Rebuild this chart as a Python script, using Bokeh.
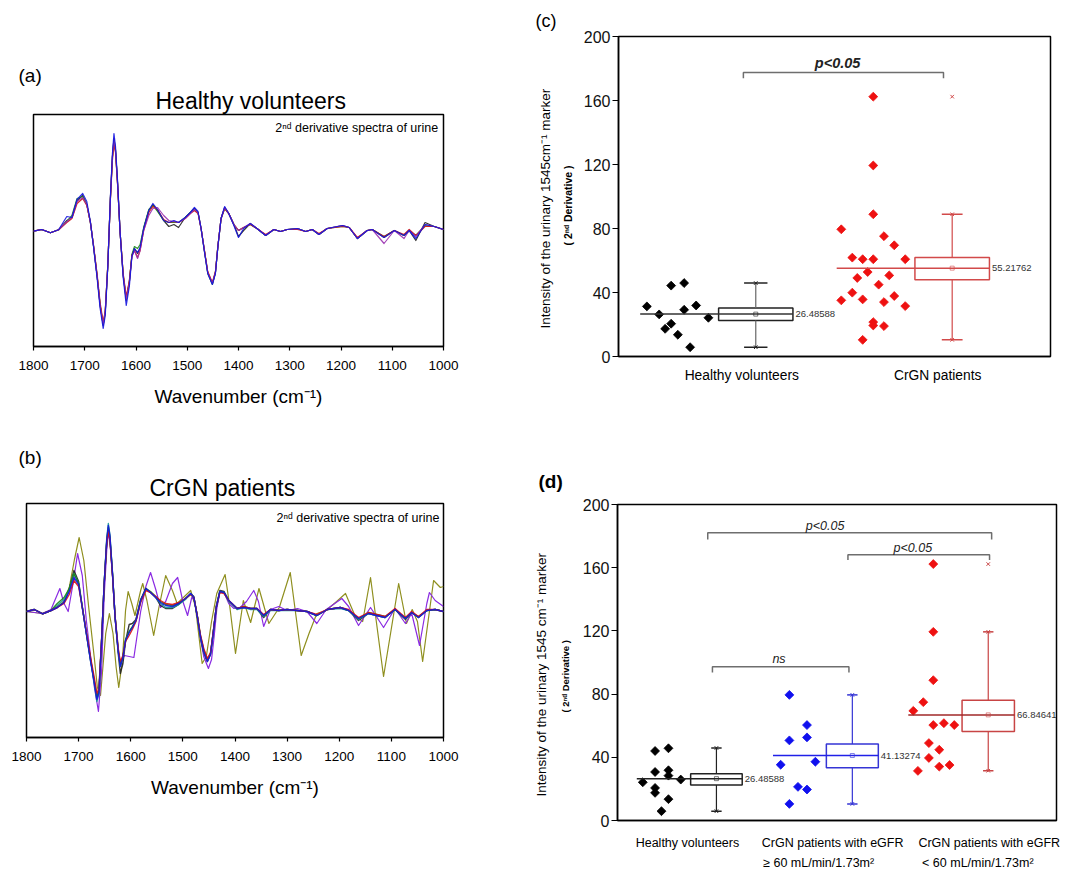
import numpy as np
from bokeh.plotting import figure
from bokeh.layouts import row, column
from bokeh.models import Range1d, Label, FixedTicker, Title, LinearAxis
from bokeh.embed import file_html
from bokeh.resources import INLINE

SANS = "Liberation Sans"

# ------------------------------------------------------------------ data
# (a) healthy volunteers: 2nd-derivative spectra (arbitrary units)
WN_A = [1800, 1784, 1767, 1751, 1735, 1725, 1715, 1704, 1696, 1689,
        1683, 1676, 1670, 1664, 1660, 1655, 1650, 1646, 1643, 1640,
        1636, 1631, 1625, 1619, 1613, 1608, 1603, 1597, 1592, 1585,
        1575, 1567, 1558, 1546, 1536, 1526, 1517, 1504, 1494, 1486,
        1479, 1473, 1466, 1460, 1451, 1445, 1440, 1434, 1427, 1419,
        1409, 1400, 1390, 1377, 1364, 1347, 1331, 1318, 1305, 1285,
        1269, 1256, 1243, 1227, 1197, 1184, 1168, 1149, 1139, 1116,
        1096, 1077, 1067, 1054, 1036, 1018, 1000]
H_BLACK = [-0.7, 1, -2.3, 0.7, 10, 13, 30, 35, 26, 8.3,
           -15, -45, -75, -95, -82, -35, 32, 74, 92, 81,
           48, -2, -45, -70, -52, -25, -18, -23, -18, 2,
           20, 26, 20, 10, 4, 6, 3, 13, 18, 22,
           18, 2, -22, -42, -53, -42, -15, 12, 23, 17,
           6, -6, 0, 7, 2, -5, 1, -1, 1, 2,
           -1, 1, -4, 2, 5, 3, -8, 0, 1, -7,
           0, -5, 0, -10, 8, 4, 1]
H_RED = [-0.7, 1, -2.3, 0.7, 8, 12, 27, 32, 25, 8,
         -14, -43, -72, -92, -80, -34, 30, 70, 86, 78,
         46, -2, -43, -66, -50, -25, -20, -27, -20, 0,
         18, 24, 21, 11, 8, 9, 8, 12, 17, 20,
         17, 2, -21, -41, -52, -41, -14, 12, 22, 17,
         6, 0, 3, 6, 2, -4, 1, -1, 1, 1,
         -1, 1, -3, 2, 4, 3, -7, 0, 1, -6,
         0, -4, 1, -5, 4, 4, 1]
H_GREEN = [-0.7, 1, -2.3, 0.7, 9, 15, 32, 34, 26, 8,
           -15, -45, -74, -94, -81, -35, 31, 73, 90, 80,
           47, -2, -44, -68, -51, -24, -16, -18, -14, 3,
           21, 25, 19, 10, 8, 8, 8, 13, 18, 21,
           18, 2, -22, -43, -54, -42, -15, 12, 22, 17,
           6, 0, 3, 6, 2, -5, 1, -1, 1, 2,
           -1, 1, -4, 2, 4, 3, -8, 0, 1, -6,
           0, -5, 0, -5, 5, 4, 1]
H_PURPLE = [-0.7, 1, -2.3, 0.7, 9, 13, 29, 33, 26, 8,
            -15, -45, -75, -94, -81, -35, 31, 74, 92, 80,
            47, -2, -45, -69, -52, -26, -20, -28, -20, 0,
            15, 22, 23, 15, 10, 9, 8, 12, 17, 21,
            18, 2, -22, -42, -53, -42, -15, 12, 23, 17,
            6, 0, 3, 7, 2, -5, 1, -1, 1, 2,
            -1, 1, -4, 2, 5, 3, -8, 0, 1, -13,
            0, -8, 0, -6, 6, 4, 1]
H_BLUE = [-0.7, 1, -2.3, 0.7, 14, 13, 31, 37, 29, 9,
          -16, -47, -78, -98, -85, -36, 33, 77, 97, 84,
          50, -2, -47, -75, -56, -26, -18, -22, -17, 2,
          20, 27, 21, 10, 8, 10, 8, 13, 18, 23,
          19, 2, -23, -43, -54, -43, -15, 12, 24, 17,
          5, -7, 2, 7, 2, -5, 1, -1, 1, 2,
          -1, 1, -4, 2, 5, 3, -8, 0, 1, -7,
          0, -5, 0, -8, 6, 4, 1]

# (b) CrGN patients: 2nd-derivative spectra (arbitrary units)
WN_B = [1800, 1785, 1769, 1753, 1741, 1728, 1718, 1709, 1700, 1693,
        1685, 1677, 1670, 1665, 1661, 1656, 1651, 1646, 1643, 1640,
        1635, 1630, 1624, 1620, 1615, 1610, 1603, 1597, 1590, 1581,
        1571, 1562, 1552, 1543, 1533, 1520, 1508, 1495, 1485, 1479,
        1472, 1466, 1460, 1453, 1447, 1442, 1436, 1429, 1421, 1412,
        1402, 1396, 1383, 1370, 1358, 1345, 1332, 1316, 1300, 1281,
        1262, 1243, 1223, 1198, 1182, 1163, 1144, 1128, 1112, 1093,
        1073, 1061, 1048, 1032, 1016, 1000]
B_BLACK = [0, 2, -2.3, 1, 4, 9, 22, 41, 30, 5,
           -22, -49, -70, -86, -80, -30, 27, 70, 82, 73,
           37, -6, -42, -62, -52, -30, -13, -12, -8, 12,
           23, 19, 14, 6, 3, 3, 7, 13, 18, 15,
           -6, -27, -41, -50, -43, -22, 5, 21, 20, 11,
           6, 3, 4, 3, 3, -6, 2, 1, 2, 1,
           0, -4, 2, 4, 1, -9, -2, -4, -6, 2,
           -8, -1, -6, 1, 2, 0]
B_TEAL = [0, 2, -2.3, 1, 6, 12, 22, 38, 28, 4,
          -23, -50, -72, -90, -82, -30, 28, 74, 88, 77,
          39, -6, -40, -55, -46, -29, -20, -16, -9, 10,
          22, 19, 14, 8, 4, 4, 7, 12, 18, 14,
          -6, -26, -40, -49, -42, -22, 4, 20, 19, 10,
          5, 2, 4, 2, 2, -5, 1, 1, 1, 1,
          0, -4, 2, 3, 1, -8, -2, -4, -6, 2,
          -7, -1, -6, 1, 2, 0]
B_GREEN = [0, 2, -2.3, 1, 8, 14, 23, 38, 28, 5,
           -22, -48, -69, -85, -78, -29, 28, 71, 84, 74,
           38, -5, -38, -53, -45, -28, -20, -15, -9, 11,
           23, 20, 15, 10, 7, 6, 8, 13, 17, 14,
           -5, -25, -38, -48, -42, -22, 4, 20, 19, 11,
           6, 3, 5, 3, 3, -4, 2, 1, 2, 1,
           0, -4, 2, 4, 1, -7, -1, -3, -5, 2,
           -7, -1, -5, 1, 2, 0]
B_RED = [0, 2, -2.3, 1, 4, 8, 17, 31, 25, 4,
         -21, -46, -66, -82, -77, -28, 27, 69, 80, 72,
         36, -5, -37, -50, -44, -30, -24, -18, -10, 9,
         21, 19, 15, 11, 8, 7, 9, 13, 17, 14,
         -5, -24, -37, -47, -41, -21, 4, 19, 18, 11,
         6, 3, 5, 3, 3, -3, 2, 1, 2, 1,
         0, -3, 2, 4, 2, -6, -1, -3, -5, 3,
         -6, 0, -5, 2, 2, 0]
B_BLUE = [0, 2, -2.3, 1, 4, 9, 20, 34, 27, 4,
          -23, -50, -71, -88, -81, -30, 28, 72, 86, 76,
          38, -6, -40, -55, -46, -29, -21, -16, -9, 11,
          23, 19, 14, 9, 6, 5, 8, 13, 18, 14,
          -6, -26, -40, -50, -43, -23, 4, 20, 19, 11,
          6, 3, 4, 3, 3, -4, 2, 1, 2, 1,
          0, -4, 2, 4, 1, -7, -2, -4, -6, 2,
          -7, -1, -6, 1, 2, 0]
WN_OLIVE = [1800, 1770, 1745, 1728, 1718, 1708, 1699, 1690, 1680, 1670,
            1664, 1658, 1648, 1641, 1634, 1628, 1623, 1616, 1610, 1605,
            1598, 1592, 1581, 1577, 1569, 1556, 1546, 1533, 1520, 1511,
            1497, 1485, 1476, 1463, 1455, 1445, 1435, 1419, 1410, 1399,
            1390, 1384, 1370, 1354, 1335, 1315, 1294, 1273, 1258, 1243,
            1225, 1205, 1188, 1170, 1155, 1140, 1115, 1086, 1071, 1060,
            1050, 1040, 1019, 1006, 1000]
OLIVE = [0, -2, 3, 10, 24, 52, 74, 51, 1, -46,
         -76, -84, -22, -2, -22, -56, -76, -49, 1, 20,
         8, -4, 21, 28, 11, -24, 4, 36, 21, 8,
         15, 21, 5, -52, -45, -10, 18, 37, 5, -42,
         -10, 11, -11, 23, -12, 4, 39, -44, -22, -2,
         1, 10, 18, -4, -10, 34, -65, 28, -12, 2,
         -10, -50, 31, 24, 25]
WN_PURPLE = [1800, 1770, 1753, 1736, 1728, 1720, 1710, 1702, 1693, 1685,
             1677, 1670, 1662, 1656, 1651, 1646, 1643, 1640, 1635, 1630,
             1624, 1620, 1612, 1594, 1581, 1571, 1562, 1552, 1543, 1533,
             1520, 1510, 1500, 1491, 1483, 1478, 1472, 1466, 1460, 1451,
             1445, 1440, 1435, 1429, 1421, 1412, 1402, 1390, 1378, 1364,
             1355, 1345, 1332, 1316, 1300, 1280, 1262, 1243, 1225, 1195,
             1182, 1163, 1140, 1115, 1093, 1073, 1061, 1046, 1032, 1027,
             1016, 1000]
PURPLE = [0, -2, 2, 23, 8, 0, 30, 58, 36, -10,
          -45, -75, -100, -60, 15, 62, 78, 70, 35, -8,
          -40, -52, -44, -46, 0, 25, 39, 22, 4, 10,
          28, 34, 10, -4, 14, 12, -5, -28, -45, -57,
          -48, -25, 2, 20, 19, 8, 3, 4, 10, 21,
          10, -15, 2, 5, 1, 3, 0, -12, 2, 13,
          5, -14, 4, -16, 3, -12, -2, -34, 8, 19,
          11, 5]
WN_TICKS = [1800, 1700, 1600, 1500, 1400, 1300, 1200, 1100, 1000]

for s in (H_BLACK, H_RED, H_GREEN, H_PURPLE, H_BLUE):
    assert len(s) == len(WN_A)
for s in (B_BLACK, B_TEAL, B_GREEN, B_RED, B_BLUE):
    assert len(s) == len(WN_B)
assert len(OLIVE) == len(WN_OLIVE) and len(PURPLE) == len(WN_PURPLE)

# (c) marker intensity: healthy vs CrGN
C_CATS = ["Healthy volunteers", "CrGN patients"]
C_HV = [31.3, 26.3, 17.3, 44.3, 20.5, 13.6, 45.9, 29.2, 5.8, 31.9, 24.2]
C_HV_X = [0.284, 0.407, 0.467, 0.527, 0.527, 0.594, 0.657, 0.657, 0.717, 0.777, 0.9]
C_CR = [79.5, 61.8, 60.8, 60.8, 75.2, 69.5, 60.8, 49.1, 52.8, 44.9, 50.7, 35.1,
        39.9, 35.7, 21.5, 19.4, 34.0, 37.8, 31.5, 19.0, 10.4, 88.9, 119.4, 162.4]
C_CR_X = [2.23, 2.34, 2.444, 2.55, 2.657, 2.76, 2.87, 2.39, 2.494, 2.604, 2.71, 2.23,
          2.34, 2.444, 2.55, 2.55, 2.657, 2.76, 2.87, 2.657, 2.444, 2.55, 2.55, 2.55]
C_Q1 = [22.5, 48.0]
C_Q3 = [30.3, 61.8]
C_LO = [5.8, 10.4]
C_HI = [45.9, 88.9]
C_MEAN = [26.48588, 55.21762]
C_OUT = [None, 162.4]

# (d) marker intensity by eGFR group
D_CATS_1 = ["Healthy volunteers", "CrGN patients with eGFR", "CrGN patients with eGFR"]
D_CATS_2 = ["\u2265 60 mL/min/1.73m\u00b2", "< 60 mL/min/1.73m\u00b2"]
D_HV = [24.2, 44.0, 30.7, 20.6, 17.5, 5.9, 45.7, 31.8, 28.4, 13.5, 25.9]
D_HV_X = [0.253, 0.376, 0.376, 0.376, 0.376, 0.44, 0.51, 0.51, 0.51, 0.51, 0.633]
D_BL = [79.5, 50.7, 60.4, 52.6, 35.3, 37.2, 21.3, 19.6, 10.5]
D_BL_X = [1.72, 1.72, 1.896, 1.896, 1.633, 1.98, 1.806, 1.896, 1.72]
D_RD = [162.3, 119.4, 88.8, 74.9, 69.4, 60.4, 61.6, 60.4, 49.0, 44.8, 39.6, 31.4, 34.1, 35.1]
D_RD_X = [3.16, 3.16, 3.16, 3.06, 2.96, 3.16, 3.266, 3.37, 3.116, 3.22, 3.116, 3.006, 3.22, 3.323]
D_Q1 = [22.5, 33.4, 56.4]
D_Q3 = [29.65, 48.4, 76.1]
D_LO = [5.9, 10.5, 31.5]
D_HI = [45.9, 79.5, 119.4]
D_MEAN = [26.48588, 41.13274, 66.84641]
D_OUT = [None, None, 162.3]
Y_TICKS = [0, 40, 80, 120, 160, 200]

Y_LABEL_C = "Intensity of the urinary 1545cm\u207b\u00b9 marker"
Y_LABEL_D = "Intensity of the urinary 1545 cm\u207b\u00b9 marker"
Y_SUB = "( 2\u207f\u1d48 Derivative )"


# ------------------------------------------------------------------ helpers
def base_fig(w, h, xr, yr, bl, br, bt, bb):
    p = figure(width=w, height=h, x_range=Range1d(*xr), y_range=Range1d(*yr),
               output_backend="svg", toolbar_location=None,
               min_border_left=bl, min_border_right=br,
               min_border_top=bt, min_border_bottom=bb, frame_align=False)
    p.xgrid.visible = False
    p.ygrid.visible = False
    p.outline_line_color = "black"
    p.outline_line_width = 1.5
    p.outline_line_alpha = 1.0
    p.background_fill_color = "white"
    p.border_fill_color = "white"
    return p


def title(text, size, align="left", offset=0, standoff=0, style="normal"):
    return Title(text=text, align=align, offset=offset, standoff=standoff,
                 text_font=SANS, text_font_size=size, text_font_style=style,
                 text_color="black")


def set_title(p, text, size, align, offset, standoff, style="normal"):
    p.title.text = text
    p.title.align = align
    p.title.offset = offset
    p.title.standoff = standoff
    p.title.text_font = SANS
    p.title.text_font_size = size
    p.title.text_font_style = style
    p.title.text_color = "black"


def lab(p, x, y, text, size, align="left", style="normal", color="black"):
    p.add_layout(Label(x=x, y=y, text=text, text_font_size=size, text_align=align,
                       text_baseline="middle", text_font_style=style,
                       text_color=color, text_font=SANS))


def spectra_axes(p):
    p.yaxis.visible = False
    ax = p.xaxis[0]
    ax.ticker = FixedTicker(ticks=WN_TICKS)
    ax.major_label_text_font = SANS
    ax.major_label_text_font_size = "13.5px"
    ax.major_label_text_color = "black"
    ax.major_tick_in = 0
    ax.major_tick_out = 4
    ax.major_tick_line_width = 1.2
    ax.minor_tick_line_color = None
    ax.axis_line_width = 1.5
    ax.major_label_standoff = 10
    ax.axis_label = "Wavenumber (cm\u207b\u00b9)"
    ax.axis_label_text_font = SANS
    ax.axis_label_text_font_size = "19px"
    ax.axis_label_text_font_style = "normal"
    ax.axis_label_text_color = "black"
    ax.axis_label_standoff = 13


def box_axes(p, ticks, labels, standoff, size):
    ay = p.yaxis[0]
    ay.ticker = FixedTicker(ticks=Y_TICKS)
    ay.major_label_text_font = SANS
    ay.major_label_text_font_size = "16px"
    ay.major_label_text_color = "#111111"
    ay.major_tick_in = 0
    ay.major_tick_out = 6
    ay.major_tick_line_width = 1.2
    ay.minor_tick_line_color = None
    ay.axis_line_width = 1.5
    ay.major_label_standoff = 2
    ax = p.xaxis[0]
    ax.ticker = FixedTicker(ticks=ticks)
    ax.major_label_overrides = {t: l for t, l in zip(ticks, labels)}
    ax.major_tick_line_color = None
    ax.major_tick_in = 0
    ax.major_tick_out = 0
    ax.minor_tick_line_color = None
    ax.minor_tick_in = 0
    ax.minor_tick_out = 0
    ax.axis_line_width = 1.5
    ax.major_label_standoff = standoff
    ax.major_label_text_font = SANS
    ax.major_label_text_font_size = size
    ax.major_label_text_color = "black"


def diamonds(p, xs, ys, color):
    p.scatter(x=xs, y=ys, marker="square", angle=np.pi / 4, size=6.3,
              fill_color=color, line_color=color, line_width=0.8)


def draw_box(p, xc, half, cap, q1, q3, lo, hi, mean, out, box_col, wcol,
             line_x0, mean_col, lw=1.5):
    p.quad(left=[xc - half], right=[xc + half], bottom=[q1], top=[q3],
           fill_color=None, line_color=box_col, line_width=lw)
    p.segment(x0=[xc, xc], y0=[q3, q1], x1=[xc, xc], y1=[hi, lo],
              line_color=wcol, line_width=1.2)
    p.segment(x0=[xc - cap, xc - cap], y0=[hi, lo], x1=[xc + cap, xc + cap], y1=[hi, lo],
              line_color=box_col, line_width=lw)
    p.scatter(x=[xc, xc], y=[hi, lo], marker="x", size=5, line_color=box_col, line_width=1)
    p.segment(x0=[line_x0], y0=[mean], x1=[xc + half], y1=[mean],
              line_color=mean_col, line_width=lw)
    p.scatter(x=[xc], y=[mean], marker="square", size=4, fill_color=None,
              line_color=box_col, line_alpha=0.6, line_width=1)
    if out is not None:
        p.scatter(x=[xc], y=[out], marker="x", size=5, line_color=box_col, line_width=1)
    lab(p, xc + half + 0.025, mean, "%.5f" % mean, "9.5px", color="#333333")


def bracket(p, x0, x1, y, leg, text, tx, ty, size, style="italic"):
    p.line(x=[x0, x0, x1, x1], y=[y - leg, y, y, y - leg], line_color="#6e6e6e", line_width=1.5)
    p.add_layout(Label(x=tx, y=ty, text=text, text_font_size=size, text_align="center",
                       text_baseline="middle", text_font_style=style,
                       text_color="#222222", text_font=SANS))


# ------------------------------------------------------------------ (a)
pa = base_fig(530, 430, (1800, 1000), (-116, 116), 33, 87, 114, 84)
spectra_axes(pa)
for ys, col in ((H_BLACK, "#222222"), (H_GREEN, "#1a8a1a"), (H_RED, "#d01010"),
                (H_PURPLE, "#9a30b0"), (H_BLUE, "#1515e0")):
    pa.line(WN_A, ys, line_color=col, line_width=1.2, line_alpha=0.9, line_join="round")
set_title(pa, "(a)", "19px", "left", -15, 0)
pa.add_layout(title("Healthy volunteers", "23px", "left", 122, 1), "above")
lab(pa, 1010.5, 102.7, "2\u207f\u1d48 derivative spectra of urine", "12.5px", align="right")

# ------------------------------------------------------------------ (b)
pb = base_fig(530, 442, (1800, 1000), (-126, 108), 26, 87, 73, 135)
spectra_axes(pb)
pb.line(WN_OLIVE, OLIVE, line_color="#8f8f1f", line_width=1.2, line_join="round")
pb.line(WN_PURPLE, PURPLE, line_color="#8a2be2", line_width=1.2, line_join="round")
for ys, col in ((B_BLACK, "#222222"), (B_TEAL, "#1a9a9a"), (B_GREEN, "#1a8a1a"),
                (B_RED, "#e01010"), (B_BLUE, "#1515e0")):
    pb.line(WN_B, ys, line_color=col, line_width=1.4, line_alpha=0.9, line_join="round")
set_title(pb, "(b)", "19px", "left", -8, 6)
pb.add_layout(title("CrGN patients", "23px", "left", 123, 5), "above")
lab(pb, 1008, 93.7, "2\u207f\u1d48 derivative spectra of urine", "12.5px", align="right")

# ------------------------------------------------------------------ (c)
pc = base_fig(541, 430, (0, 4.324), (0, 200), 88, 21, 36, 74)
box_axes(pc, [1.234, 3.195], C_CATS, 11, "13.8px")
diamonds(pc, C_HV_X, C_HV, "black")
diamonds(pc, C_CR_X, C_CR, "#ee1111")
draw_box(pc, 1.374, 0.372, 0.117, C_Q1[0], C_Q3[0], C_LO[0], C_HI[0], C_MEAN[0], C_OUT[0],
         "#222222", "#666666", 0.217, "#333333")
draw_box(pc, 3.34, 0.373, 0.104, C_Q1[1], C_Q3[1], C_LO[1], C_HI[1], C_MEAN[1], C_OUT[1],
         "#d24a4a", "#d24a4a", 2.184, "#d24a4a")
bracket(pc, 1.25, 3.253, 177.5, 3.6, "p<0.05", 2.193, 183.5, "14.5px", "bold italic")
set_title(pc, "(c)", "18px", "left", -83, 11)
pc.add_layout(title(Y_SUB, "10.5px", "left", 111, 14, "bold"), "left")
pc.add_layout(title(Y_LABEL_C, "13.5px", "left", 28, 0), "left")

# ------------------------------------------------------------------ (d)
pd_ = base_fig(541, 442, (0, 4.393), (0, 200), 87, 15, 74, 51)
box_axes(pd_, [0.70, 2.153, 3.72], D_CATS_1, 15, "12.5px")
ax2 = LinearAxis(ticker=FixedTicker(ticks=[2.013, 3.606]),
                 major_label_overrides={2.013: D_CATS_2[0], 3.606: D_CATS_2[1]},
                 axis_line_color=None, major_tick_line_color=None, minor_tick_line_color=None,
                 major_tick_in=0, major_tick_out=0, minor_tick_in=0, minor_tick_out=0,
                 major_label_standoff=3, major_label_text_font=SANS,
                 major_label_text_font_size="12.5px", major_label_text_color="black")
pd_.add_layout(ax2, "below")
diamonds(pd_, D_HV_X, D_HV, "black")
diamonds(pd_, D_BL_X, D_BL, "#1010ee")
diamonds(pd_, D_RD_X, D_RD, "#ee1111")
draw_box(pd_, 0.99, 0.258, 0.052, D_Q1[0], D_Q3[0], D_LO[0], D_HI[0], D_MEAN[0], D_OUT[0],
         "#222222", "#222222", 0.193, "#222222")
draw_box(pd_, 2.35, 0.26, 0.052, D_Q1[1], D_Q3[1], D_LO[1], D_HI[1], D_MEAN[1], D_OUT[1],
         "#3535d5", "#3535d5", 1.556, "#2020e8")
draw_box(pd_, 3.71, 0.262, 0.052, D_Q1[2], D_Q3[2], D_LO[2], D_HI[2], D_MEAN[2], D_OUT[2],
         "#c84444", "#c84444", 2.91, "#a02828")
bracket(pd_, 0.903, 3.744, 182.1, 4.2, "p<0.05", 2.077, 186.2, "12.5px")
bracket(pd_, 2.306, 3.723, 168.2, 3.4, "p<0.05", 2.955, 172.4, "12.5px")
bracket(pd_, 0.95, 2.316, 97.3, 3.6, "ns", 1.616, 102.5, "12.5px")
set_title(pd_, "(d)", "19px", "left", -79, 26, "bold")
pd_.add_layout(title(Y_SUB, "9.5px", "left", 108, 18, "bold"), "left")
pd_.add_layout(title(Y_LABEL_D, "13.5px", "left", 24, 0), "left")

layout = row(column(pa, pb), column(pc, pd_))
open("out.html", "w").write(file_html(layout, INLINE))
